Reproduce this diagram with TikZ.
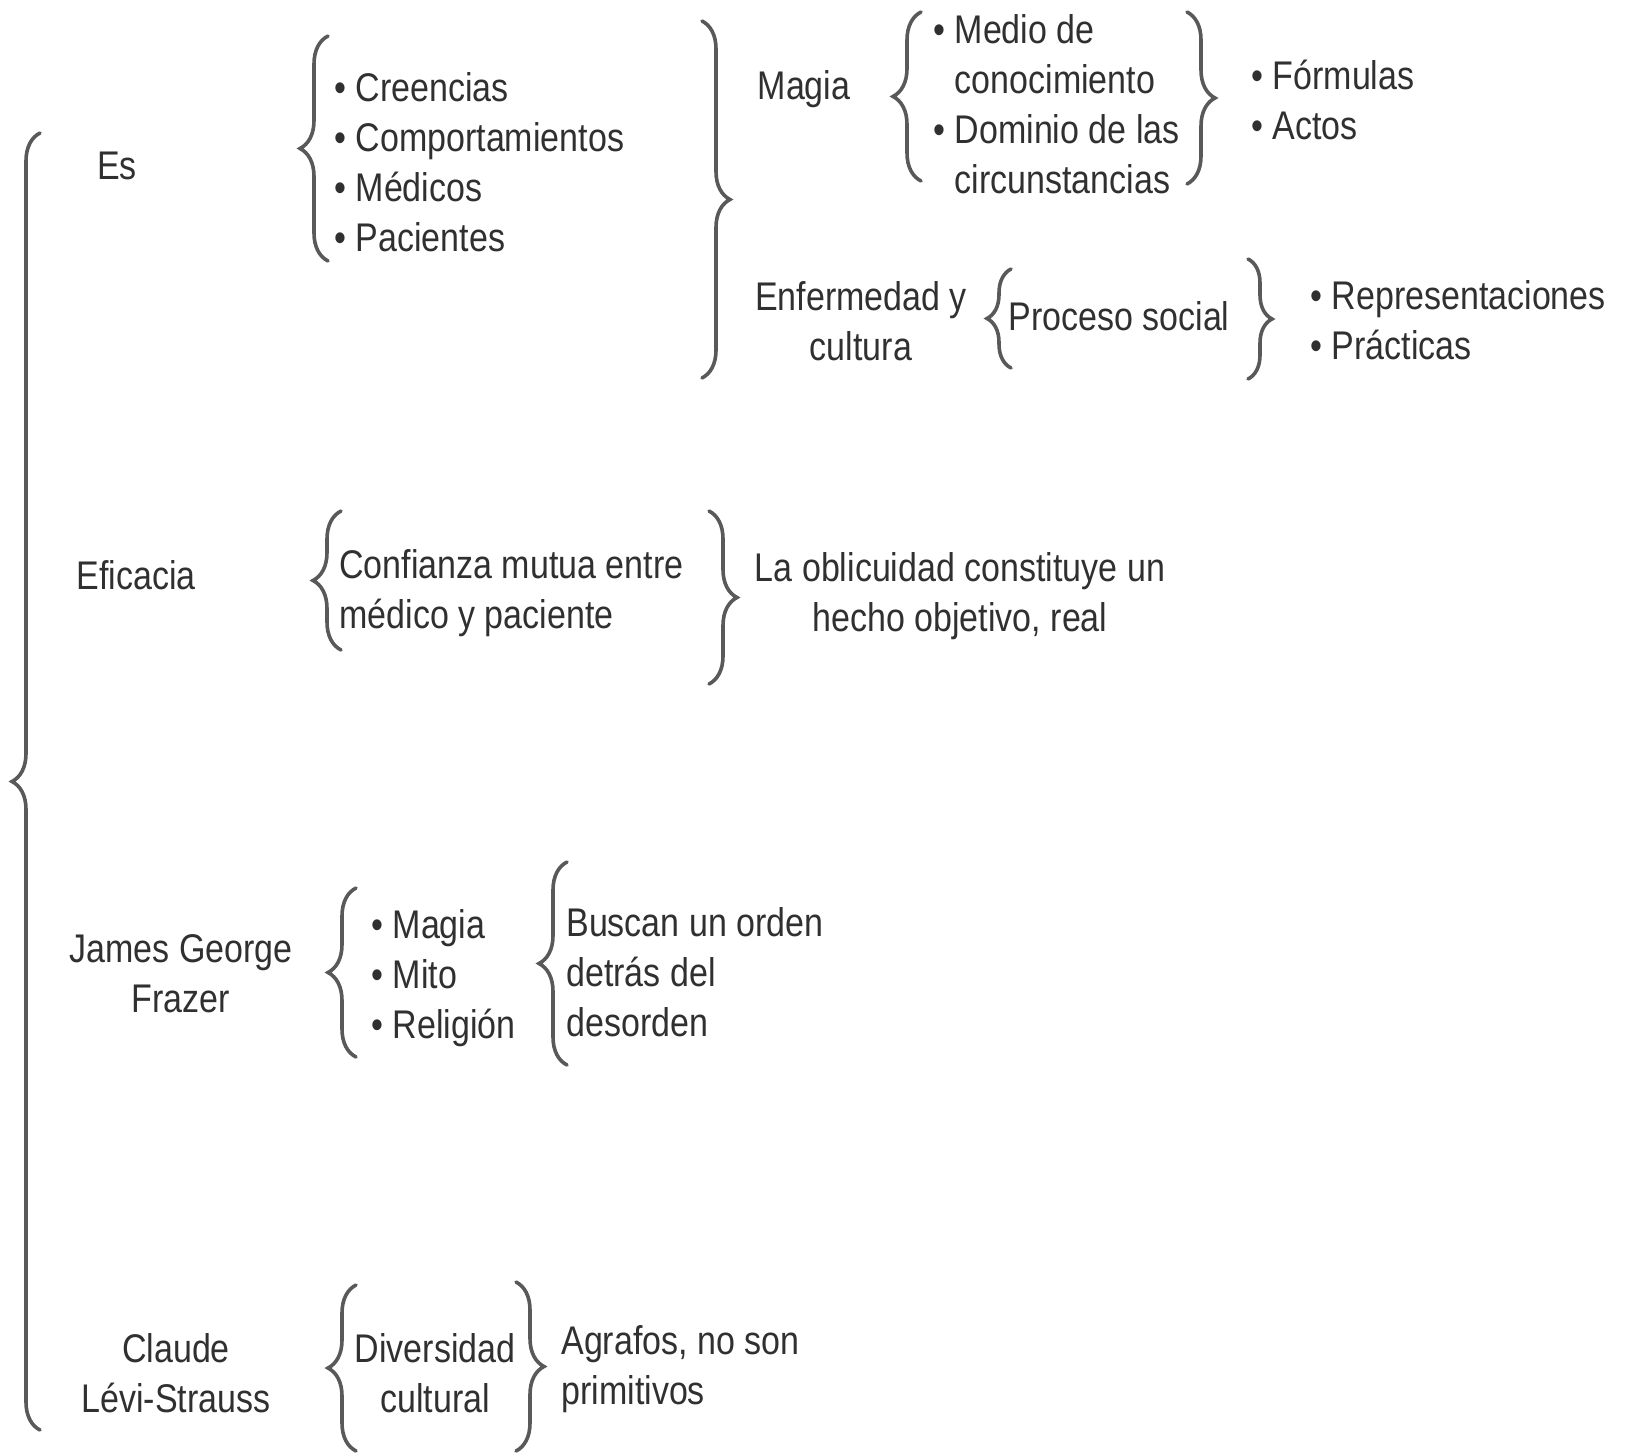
\documentclass[tikz,border=0pt]{standalone}
\usepackage{fontspec}
\setmainfont{Liberation Sans}[FakeStretch=0.85]
\usetikzlibrary{decorations.pathreplacing}
\definecolor{txtgray}{HTML}{303030}
\definecolor{brcgray}{HTML}{595959}
\tikzset{
  lbl/.style={inner sep=0pt,text=txtgray,font=\fontsize{20}{25}\selectfont,align=center},
  lst/.style={lbl,align=left,anchor=west},
  brc/.style={draw=brcgray,line width=1.8pt,line cap=round,decorate,decoration={brace,amplitude=#1}},
  brc/.default=14pt
}
\begin{document}
\begin{tikzpicture}[x=0.5pt,y=-0.5pt]
   \useasboundingbox (0,0) rectangle (1625,1455);
   \node[lbl] (es) at (117,166) {Es};
   \node[lbl] (eficacia) at (136,575) {Eficacia};
   \node[lbl] (frazer) at (181,974) {James George\\Frazer};
   \node[lbl] (levi) at (176,1373) {Claude\\Lévi-Strauss};
   \node[lst] (es_list) at (334,162) {• Creencias\\• Comportamientos\\• Médicos\\• Pacientes};
   \node[lbl] (magia) at (804,89) {Magia};
   \node[lst] (magia_list) at (933,104) {• Medio de\\\hphantom{• }conocimiento\\• Dominio de las\\\hphantom{• }circunstancias};
   \node[lst] (formulas) at (1251,100) {• Fórmulas\\• Actos};
   \node[lbl] (enfermedad) at (861,321) {Enfermedad y\\cultura};
   \node[lbl] (proceso) at (1119,316) {Proceso social};
   \node[lst] (practicas) at (1310,320) {• Representaciones\\• Prácticas};
   \node[lst] (confianza) at (339,593) {Confianza mutua entre\\médico y paciente};
   \node[lbl] (oblicuidad) at (960,596) {La oblicuidad constituye un\\hecho objetivo, real};
   \node[lst] (frazer_list) at (371,978) {• Magia\\• Mito\\• Religión};
   \node[lst] (buscan) at (566,972) {Buscan un orden\\detrás del\\desorden};
   \node[lbl] (diversidad) at (435,1373) {Diversidad\\cultural};
   \node[lst] (agrafos) at (561,1369) {Agrafos, no son\\primitivos};
   \foreach \bx/\ya/\yb/\amp in {40/1430/133/14pt, 328/261/36/14pt, 921/181/12/14pt,
       1011/368/269/12pt, 341/650/511/14pt, 356/1057/888/14pt, 567/1065/862/14pt,
       356/1451/1285/14pt, 702/21/378/14pt, 1187/12/184/14pt, 1248/259/379/12pt,
       709/511/684/14pt, 516/1282/1451/14pt}
     \draw[brc=\amp] (\bx,\ya) -- (\bx,\yb);
\end{tikzpicture}
\end{document}
